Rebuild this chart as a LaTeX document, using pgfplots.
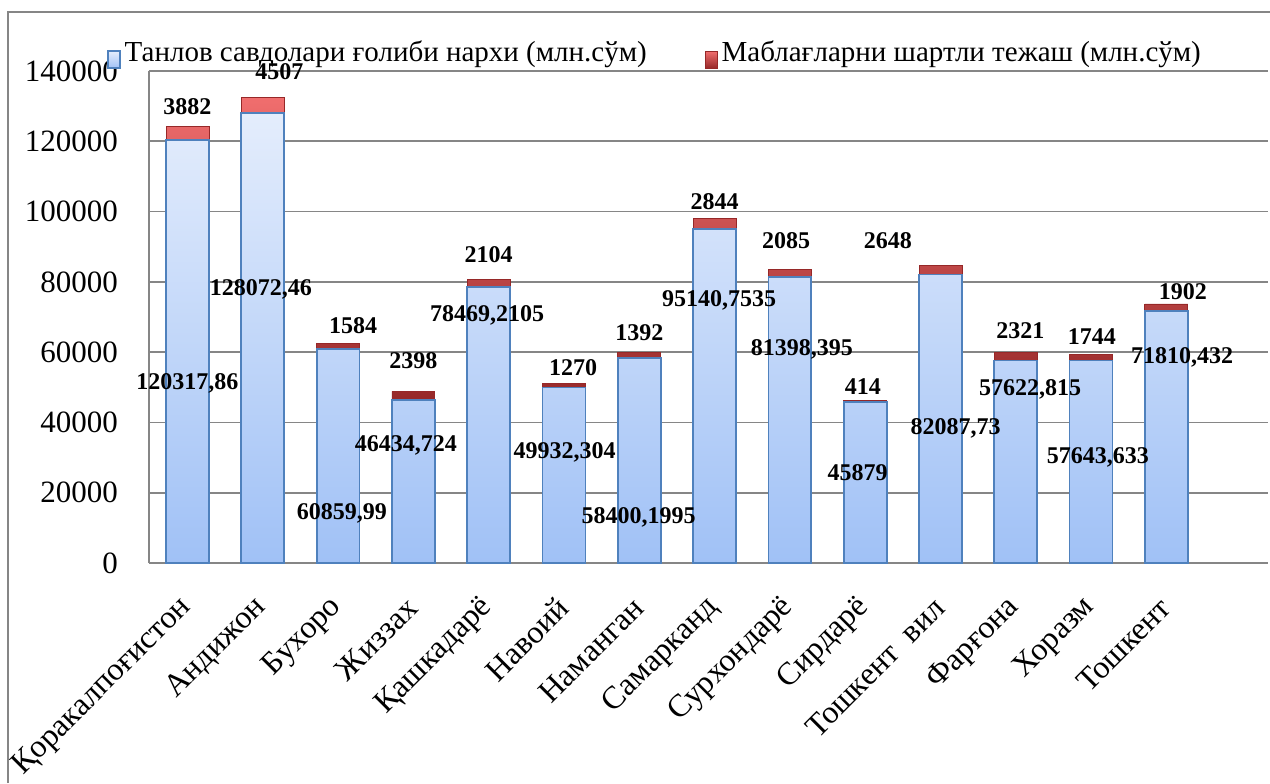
\documentclass[border=0pt]{standalone}
\usepackage{fontspec}
\setmainfont{Liberation Serif}
\usepackage{pgfplots}
\pgfplotsset{compat=1.18}
\definecolor{gridgray}{RGB}{134,134,134}
\definecolor{bluedraw}{RGB}{79,129,189}
\definecolor{bluetop}{RGB}{228,237,252}
\definecolor{bluebot}{RGB}{160,193,246}
\definecolor{redtop}{RGB}{240,110,110}
\definecolor{redbot}{RGB}{150,40,40}
\tikzset{lbl/.style={font=\fontsize{12}{13}\selectfont\bfseries, inner sep=0pt}}
\begin{document}
\begin{tikzpicture}
\useasboundingbox (0,0) rectangle (635pt,391.5pt);
\draw[gridgray, line width=0.9pt] (4pt,0) -- (4pt,385.5pt) -- (640pt,385.5pt);
\begin{axis}[
  at={(74.5pt,110pt)}, anchor=south west,
  scale only axis, width=559.5pt, height=246pt,
  ybar stacked, bar width=0.57,
  xmin=-0.511, xmax=14.35, ymin=0, ymax=140000,
  axis x line*=bottom, axis y line*=left,
  axis line style={gridgray, line width=0.9pt},
  ymajorgrids, grid style={gridgray, line width=0.9pt},
  ytick={0,20000,40000,60000,80000,100000,120000,140000},
  scaled y ticks=false,
  yticklabels={0,20000,40000,60000,80000,100000,120000,140000},
  yticklabel style={font=\fontsize{15.5}{16}\selectfont, xshift=-12pt},
  xtick={0,1,2,3,4,5,6,7,8,9,10,11,12,13},
  xticklabels={Қоракалпоғистон, Андижон, Бухоро, Жиззах, Қашкадарё, Навоий, Наманган, Самарканд, Сурхондарё, Сирдарё, {Тошкент~~вил}, Фарғона, Хоразм, Тошкент},
  xticklabel style={font=\fontsize{16}{17}\selectfont, xshift=2pt, yshift=-17.5pt, rotate=45, anchor=east},
  major tick length=0pt,
  clip=false,
  legend columns=2,
  legend style={at={(-0.038,1.037)}, anchor=west, draw=none, fill=none,
    font=\fontsize{14.5}{15}\selectfont, inner sep=0pt,
    /tikz/every even column/.append style={column sep=27pt}},
  legend image code/.code={\draw[#1] (0pt,-8pt) rectangle (6pt,0.5pt);},
]
\addplot[draw=bluedraw, line width=0.9pt, top color=bluetop, bottom color=bluebot] coordinates {
 (0,120317.86) (1,128072.46) (2,60859.99) (3,46434.724) (4,78469.2105) (5,49932.304) (6,58400.1995)
 (7,95140.7535) (8,81398.395) (9,45879) (10,82087.73) (11,57622.815) (12,57643.633) (13,71810.432)};
\addlegendentry{Танлов савдолари ғолиби нархи (млн.сўм)}
\addplot[draw=redbot, line width=0.4pt, top color=redtop, bottom color=redbot] coordinates {
 (0,3882) (1,4507) (2,1584) (3,2398) (4,2104) (5,1270) (6,1392)
 (7,2844) (8,2085) (9,414) (10,2648) (11,2321) (12,1744) (13,1902)};
\addlegendentry{Маблағларни шартли тежаш (млн.сўм)}
\coordinate (b1) at (axis cs:0,51219);
\coordinate (b2) at (axis cs:0.976,77967);
\coordinate (b3) at (axis cs:2.05,14228);
\coordinate (b4) at (axis cs:2.90,33577);
\coordinate (b5) at (axis cs:3.98,70568);
\coordinate (b6) at (axis cs:5.01,31585);
\coordinate (b7) at (axis cs:5.99,13089);
\coordinate (b8) at (axis cs:7.06,74837);
\coordinate (b9) at (axis cs:8.16,60894);
\coordinate (b10) at (axis cs:8.90,25610);
\coordinate (b11) at (axis cs:10.20,38414);
\coordinate (b12) at (axis cs:11.19,49512);
\coordinate (b13) at (axis cs:12.09,30162);
\coordinate (b14) at (axis cs:13.21,58617);
\coordinate (r1) at (axis cs:0,129755);
\coordinate (r2) at (axis cs:1.22,139714);
\coordinate (r3) at (axis cs:2.20,67438);
\coordinate (r4) at (axis cs:3.0,57479);
\coordinate (r5) at (axis cs:4.0,87641);
\coordinate (r6) at (axis cs:5.12,55487);
\coordinate (r7) at (axis cs:6.0,65447);
\coordinate (r8) at (axis cs:7.0,102723);
\coordinate (r9) at (axis cs:7.95,91625);
\coordinate (r10) at (axis cs:8.97,50081);
\coordinate (r11) at (axis cs:9.30,91625);
\coordinate (r12) at (axis cs:11.06,66016);
\coordinate (r13) at (axis cs:12.01,64308);
\coordinate (r14) at (axis cs:13.22,77113);
\end{axis}
\node[lbl] at (b1) {120317,86};
\node[lbl] at (b2) {128072,46};
\node[lbl] at (b3) {60859,99};
\node[lbl] at (b4) {46434,724};
\node[lbl] at (b5) {78469,2105};
\node[lbl] at (b6) {49932,304};
\node[lbl] at (b7) {58400,1995};
\node[lbl] at (b8) {95140,7535};
\node[lbl] at (b9) {81398,395};
\node[lbl] at (b10) {45879};
\node[lbl] at (b11) {82087,73};
\node[lbl] at (b12) {57622,815};
\node[lbl] at (b13) {57643,633};
\node[lbl] at (b14) {71810,432};
\node[lbl] at (r1) {3882};
\node[lbl] at (r2) {4507};
\node[lbl] at (r3) {1584};
\node[lbl] at (r4) {2398};
\node[lbl] at (r5) {2104};
\node[lbl] at (r6) {1270};
\node[lbl] at (r7) {1392};
\node[lbl] at (r8) {2844};
\node[lbl] at (r9) {2085};
\node[lbl] at (r10) {414};
\node[lbl] at (r11) {2648};
\node[lbl] at (r12) {2321};
\node[lbl] at (r13) {1744};
\node[lbl] at (r14) {1902};
\end{tikzpicture}
\end{document}
